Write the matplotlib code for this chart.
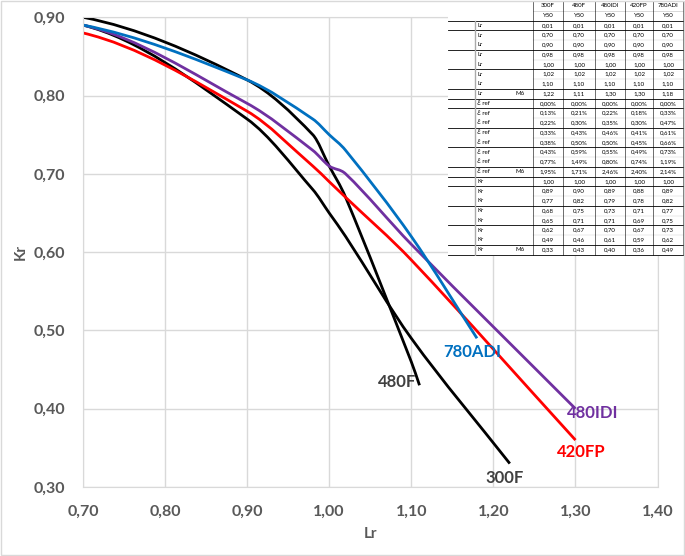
import matplotlib.pyplot as plt
from matplotlib.patches import Rectangle, PathPatch
from matplotlib.path import Path

plt.rcParams['font.family'] = ['Lato', 'DejaVu Sans']

names = ['300F', '480F', '480IDI', '420FP', '780ADI']
colors = ['black', 'black', '#7030A0', '#FF0000', '#0070C0']

lr_common = [0.01, 0.70, 0.90, 0.98, 1.00, 1.02, 1.10]
lr_m6 = [1.22, 1.11, 1.30, 1.30, 1.18]

eps_300F = ['0,00%', '0,13%', '0,22%', '0,33%', '0,38%', '0,43%', '0,77%', '1,95%']
eps_480F = ['0,00%', '0,21%', '0,30%', '0,43%', '0,50%', '0,59%', '1,49%', '1,71%']
eps_480IDI = ['0,00%', '0,22%', '0,35%', '0,46%', '0,50%', '0,55%', '0,80%', '2,46%']
eps_420FP = ['0,00%', '0,18%', '0,30%', '0,41%', '0,45%', '0,49%', '0,74%', '2,40%']
eps_780ADI = ['0,00%', '0,33%', '0,47%', '0,61%', '0,66%', '0,73%', '1,19%', '2,14%']

kr_300F = [1.00, 0.89, 0.77, 0.68, 0.65, 0.62, 0.49, 0.33]
kr_480F = [1.00, 0.90, 0.82, 0.75, 0.71, 0.67, 0.46, 0.43]
kr_480IDI = [1.00, 0.89, 0.79, 0.73, 0.71, 0.70, 0.61, 0.40]
kr_420FP = [1.00, 0.88, 0.78, 0.71, 0.69, 0.67, 0.59, 0.36]
kr_780ADI = [1.00, 0.89, 0.82, 0.77, 0.75, 0.73, 0.62, 0.49]

krs = [kr_300F, kr_480F, kr_480IDI, kr_420FP, kr_780ADI]
epss = [eps_300F, eps_480F, eps_480IDI, eps_420FP, eps_780ADI]

# label positions (data coords) and colours
label_pos = [(1.214, 0.311), (1.083, 0.434), (1.321, 0.394), (1.307, 0.345), (1.174, 0.472)]
label_col = ['#404040', '#404040', '#7030A0', '#FF0000', '#0070C0']


def smooth_path(x, y):
    # smoothed line: cubic bezier (hermite) through the points
    n = len(x)
    h = [x[i + 1] - x[i] for i in range(n - 1)]
    m = [(y[1] - y[0]) / h[0]]
    for i in range(1, n - 1):
        m.append((y[i + 1] - y[i - 1]) / (x[i + 1] - x[i - 1]))
    m.append((y[-1] - y[-2]) / h[-1])
    verts = [(x[0], y[0])]
    codes = [Path.MOVETO]
    for i in range(n - 1):
        c1 = (x[i] + h[i] / 3, y[i] + m[i] * h[i] / 3)
        c2 = (x[i + 1] - h[i] / 3, y[i + 1] - m[i + 1] * h[i] / 3)
        verts += [c1, c2, (x[i + 1], y[i + 1])]
        codes += [Path.CURVE4] * 3
    return Path(verts, codes)


fig = plt.figure(figsize=(6.85, 5.56), dpi=100)
fig.patches.append(Rectangle((0.001, 0.001), 0.997, 0.997, transform=fig.transFigure,
                             fill=False, edgecolor='#D9D9D9', lw=1))

ax = fig.add_axes([0.121, 0.124, 0.839, 0.845])
for i, n in enumerate(names):
    x = lr_common + [lr_m6[i]]
    ax.add_patch(PathPatch(smooth_path(x, krs[i]), facecolor='none',
                           edgecolor=colors[i], lw=2, capstyle='butt'))
    ax.text(label_pos[i][0], label_pos[i][1], n, color=label_col[i],
            fontsize=12, fontweight='bold', ha='center', va='center')

ax.set_xlim(0.70, 1.40)
ax.set_ylim(0.30, 0.90)
ax.set_xticks([0.70, 0.80, 0.90, 1.00, 1.10, 1.20, 1.30, 1.40])
ax.set_yticks([0.30, 0.40, 0.50, 0.60, 0.70, 0.80, 0.90])
fmt = lambda v, p: f'{v:.2f}'.replace('.', ',')
ax.xaxis.set_major_formatter(fmt)
ax.yaxis.set_major_formatter(fmt)
ax.tick_params(length=0, labelsize=11.5, labelcolor='#595959', pad=13)
for t in ax.get_xticklabels() + ax.get_yticklabels():
    t.set_fontweight('bold')
ax.grid(True, color='#D9D9D9', lw=1)
ax.set_axisbelow(True)
for s in ax.spines.values():
    s.set_color('#D9D9D9')
ax.set_xlabel('Lr', fontsize=11, fontweight='bold', color='#595959', labelpad=6)
ax.set_ylabel('Kr', fontsize=11, fontweight='bold', color='#595959', labelpad=4)

# data table in the top-right corner (pixel layout)
tax = fig.add_axes([448 / 685, 1 - 256 / 556, 237 / 685, 256 / 556])
tax.set_xlim(448, 685)
tax.set_ylim(256, 0)
tax.axis('off')
tax.add_patch(Rectangle((448, 0), 237, 256, facecolor='white', edgecolor='none'))

col_edges = [533, 563, 595, 625, 653, 683]
col_mid = [(col_edges[k] + col_edges[k + 1]) / 2 for k in range(5)]
row_h = 9.75
top = 1
fs = 4.4

# header
for k, n in enumerate(names):
    tax.text(col_mid[k], top + row_h * 0.5, n, fontsize=fs, ha='center', va='center')
    tax.text(col_mid[k], top + row_h * 1.5, 'Y50', fontsize=fs, ha='center', va='center')
tax.plot([col_edges[0], col_edges[-1]], [top, top], color='black', lw=0.5)
tax.plot([col_edges[0], col_edges[-1]], [top + row_h, top + row_h], color='#BBBBBB', lw=0.4)

rows = []
for j in range(8):
    vals = [f'{(lr_common[j] if j < 7 else lr_m6[k]):.2f}'.replace('.', ',') for k in range(5)]
    rows.append(('Lr', 'M6' if j == 7 else '', vals))
for j in range(8):
    rows.append(('\u2130 ref', 'M6' if j == 7 else '', [epss[k][j] for k in range(5)]))
for j in range(8):
    rows.append(('Kr', 'M6' if j == 7 else '', [f'{krs[k][j]:.2f}'.replace('.', ',') for k in range(5)]))

y0 = top + 2 * row_h
thick = {0, 1, 3, 5, 7, 8, 9, 11, 13, 15, 16, 17, 19, 21, 23, 24}
for r, (lab, m6, vals) in enumerate(rows):
    yc = y0 + (r + 0.5) * row_h
    tax.text(477, yc, lab, fontsize=fs, ha='left', va='center')
    if m6:
        tax.text(515, yc, m6, fontsize=fs, ha='left', va='center')
    for k in range(5):
        tax.text(col_mid[k], yc, vals[k], fontsize=fs, ha='center', va='center')
for r in range(25):
    y = y0 + r * row_h
    if r in thick:
        tax.plot([448, 683], [y, y], color='black', lw=0.6)
    else:
        tax.plot([533, 683], [y, y], color='#CCCCCC', lw=0.3)
for xe in col_edges:
    tax.plot([xe, xe], [top, y0 + 24 * row_h], color='black', lw=0.4)
tax.plot([475, 475], [y0, y0 + 24 * row_h], color='#AAAAAA', lw=1)

fig.savefig('out.png', dpi=100)
